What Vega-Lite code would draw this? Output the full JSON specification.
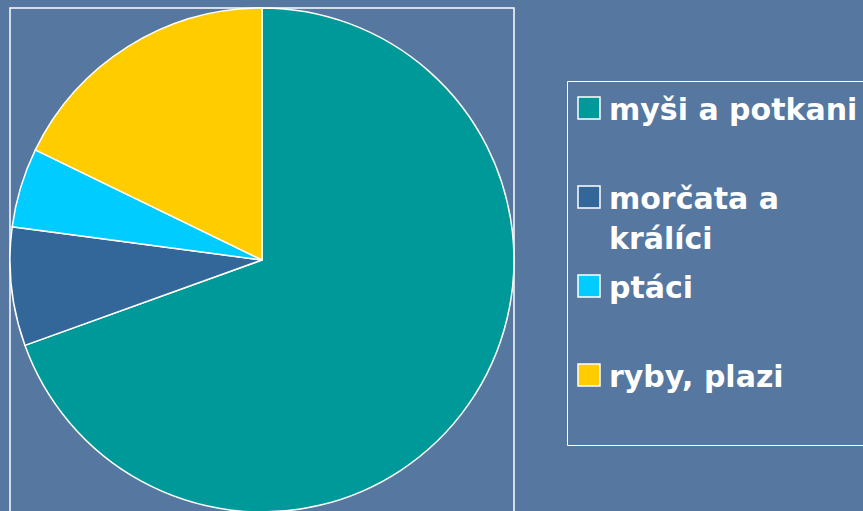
{
  "$schema": "https://vega.github.io/schema/vega-lite/v6.json",
  "width": 504,
  "height": 504,
  "padding": {"left": 7, "top": 5, "right": 0, "bottom": 0},
  "background": "#56779f",
  "view": {"stroke": "white", "strokeWidth": 1.5},
  "config": {"view": {"stroke": "white", "strokeWidth": 1.5}},
  "data": {"values": [
    {"category": "myši a potkani", "value": 69.5, "order": 1},
    {"category": "morčata a králíci", "value": 7.6, "order": 2},
    {"category": "ptáci", "value": 5.1, "order": 3},
    {"category": "ryby, plazi", "value": 17.8, "order": 4}
  ]},
  "mark": {"type": "arc", "stroke": "white", "strokeWidth": 1.5},
  "encoding": {
    "theta": {"field": "value", "type": "quantitative", "stack": true},
    "order": {"field": "order", "type": "quantitative"},
    "color": {
      "field": "category",
      "type": "nominal",
      "scale": {
        "domain": ["myši a potkani", "morčata a králíci", "ptáci", "ryby, plazi"],
        "range": ["#009999", "#336699", "#00ccff", "#ffcc00"]
      },
      "legend": {
        "orient": "none",
        "legendX": 557,
        "legendY": 73,
        "title": null,
        "symbolType": "square",
        "symbolSize": 484,
        "symbolStrokeColor": "white",
        "symbolStrokeWidth": 1.5,
        "symbolOpacity": 1,
        "symbolOffset": -5,
        "labelFont": "DejaVu Sans",
        "labelFontSize": 30,
        "labelFontWeight": "bold",
        "labelColor": "white",
        "labelLimit": 400,
        "labelOffset": 5,
        "labelBaseline": "alphabetic",
        "labelExpr": "datum.label == 'morčata a králíci' ? ['morčata a', 'králíci'] : [datum.label, ' ']",
        "rowPadding": 16,
        "strokeColor": "white",
        "padding": 12,
        "encode": {"labels": {"update": {"lineHeight": {"value": 40}, "dy": {"value": 12}}}}
      }
    }
  }
}
